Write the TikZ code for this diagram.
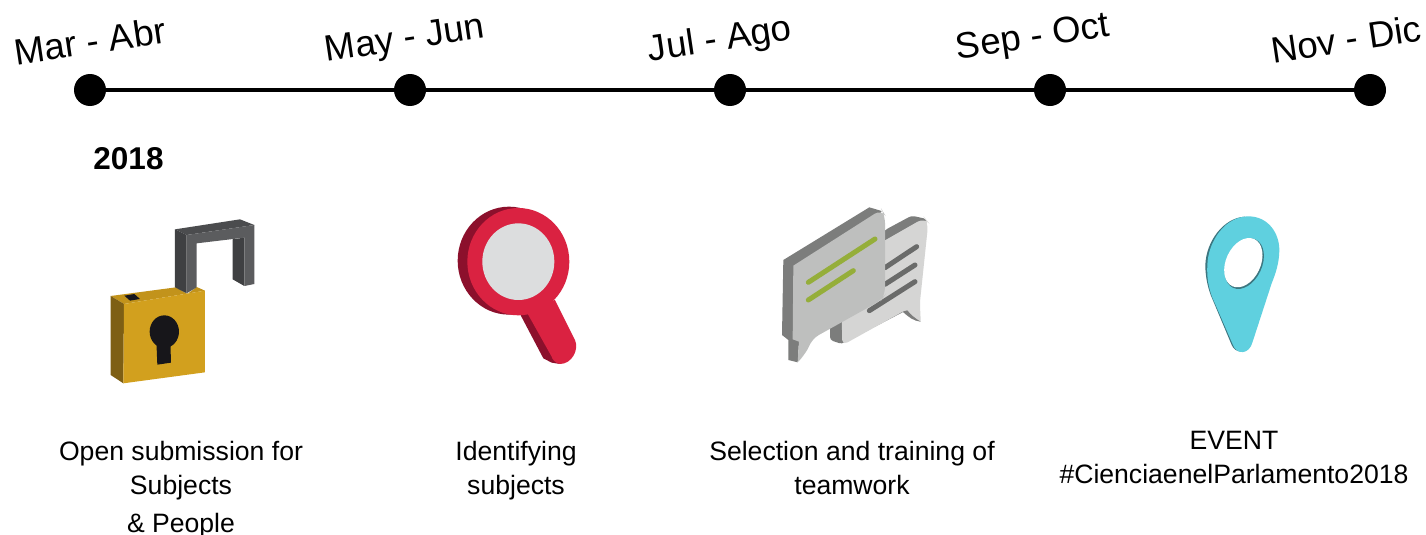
\documentclass[tikz,border=0pt]{standalone}
\usepackage{fontspec}
\setmainfont{Liberation Sans}
\definecolor{lockfront}{HTML}{D2A01E}
\definecolor{lockside}{HTML}{7E5F14}
\definecolor{locktop}{HTML}{C2931B}
\definecolor{keyblack}{HTML}{17161A}
\definecolor{shackfront}{HTML}{5B5C5E}
\definecolor{shackside}{HTML}{3F4042}
\definecolor{shacktop}{HTML}{4B4C4E}
\definecolor{magred}{HTML}{DA2241}
\definecolor{magdark}{HTML}{8C102C}
\definecolor{glass}{HTML}{DCDDDE}
\definecolor{bubfront}{HTML}{BEBFBE}
\definecolor{bubback}{HTML}{D5D5D4}
\definecolor{bubdark}{HTML}{7C7D7C}
\definecolor{barline}{HTML}{6A6B6A}
\definecolor{greenline}{HTML}{95AE3A}
\definecolor{pincyan}{HTML}{5FD0DF}
\definecolor{pindark}{HTML}{3C7680}
\tikzset{
  dot/.style={circle,fill=black,minimum size=32pt,inner sep=0pt},
  datelabel/.style={font=\fontsize{36.6}{40}\selectfont,rotate=8.5,inner sep=0pt},
  caption/.style={font=\fontsize{26.6}{34}\selectfont,align=center,inner sep=0pt},
  axis/.style={line width=4pt,black},
  icon/.style={x=0.3333pt,y=-0.3333pt},
  barthin/.style={line width=5pt,line cap=round,barline},
  bargreen/.style={line width=5pt,line cap=round,greenline}
}
\begin{document}
\begin{tikzpicture}[x=1pt,y=-1pt]
\useasboundingbox (0,0) rectangle (1426,535);
\fill[white] (0,0) rectangle (1426,535);
% timeline
\node[dot] (d1) at (90,90) {};
\node[dot] (d2) at (410,90) {};
\node[dot] (d3) at (730,90) {};
\node[dot] (d4) at (1050,90) {};
\node[dot] (d5) at (1370,90) {};
\draw[axis] (d1) -- (d2);
\draw[axis] (d2) -- (d3);
\draw[axis] (d3) -- (d4);
\draw[axis] (d4) -- (d5);
\node[datelabel] (l1) at (90,41) {Mar - Abr};
\node[datelabel] (l2) at (405,41) {May - Jun};
\node[datelabel] (l3) at (720,41) {Jul - Ago};
\node[datelabel] (l4) at (1033,39) {Sep - Oct};
\node[datelabel] (l5) at (1346,39) {Nov - Dic};
\node[font=\fontsize{31.5}{36}\selectfont\bfseries,inner sep=0pt] (year) at (128.5,158.5) {2018};
% captions
\node[caption] (c1) at (181,489.5) {Open submission for\\Subjects\\[4pt]\& People};
\node[caption] (c2) at (516,471) {Identifying\\subjects};
\node[caption] (c3) at (852,468) {Selection and training of\\teamwork};
\node[caption] (c4) at (1234,457) {EVENT\\\#CienciaenelParlamento2018};
% lock
\begin{scope}[shift={(90,200)},icon]
\fill[shacktop] (255,88) -- (450,58) -- (493,75) -- (290,105) -- cycle;
\fill[shackside] (428,118) -- (463,113) -- (463,258) -- (428,238) -- cycle;
\fill[locktop] (62,288) -- (258,262) -- (292,282) -- (320,261) -- (345,272) -- (102,312) -- cycle;
\fill[shackside] (255,88) -- (290,105) -- (290,280) -- (255,262) -- cycle;
\fill[shackfront] (290,105) -- (493,75) -- (493,252) -- (463,258) -- (463,113) -- (320,130) -- (320,262) -- (290,280) -- cycle;
\fill[lockside] (62,288) -- (102,312) -- (100,550) -- (62,525) -- cycle;
\fill[lockfront] (102,312) -- (345,272) -- (345,517) -- (100,550) -- cycle;
\fill[keyblack] (103,287) -- (133,282) -- (150,297) -- (120,302) -- cycle;
\fill[keyblack] (223,395) ellipse [x radius=44, y radius=49];
\fill[keyblack] (199,420) -- (202,494) -- (243,488) -- (241,420) -- cycle;
\end{scope}
% magnifier
\begin{scope}[shift={(440,195)},icon]
\fill[magdark] (207,197) ellipse [x radius=154, y radius=162];
\fill[magdark] (240,357) -- (275,350) -- (360,507) -- (335,503) -- (310,490) -- cycle;
\fill[magred] (235,200) ellipse [x radius=153, y radius=161];
\fill[magred] (265,360) -- (250,340) -- (345,315) -- (405,435) .. controls (418,465) and (395,507) .. (360,507) .. controls (345,505) and (335,490) .. (335,485) -- cycle;
\fill[glass] (235,200) ellipse [x radius=108, y radius=115];
\end{scope}
% speech bubbles
\begin{scope}[shift={(770,195)},icon]
\fill[bubdark,rounded corners=3pt] (180,375) -- (345,105) -- (425,62) -- (470,72) -- (440,330) -- (215,447) -- (180,435) -- cycle;
\fill[bubback] (215,360) -- (345,280) -- (345,136) [rounded corners=8pt] -- (464,68) -- (475,82) [sharp corners] -- (450,320) .. controls (450,345) and (452,365) .. (452,380) .. controls (430,378) and (415,365) .. (398,350) -- (240,438) [rounded corners=5pt] -- (217,450) -- cycle;
\fill[bubdark] (398,350) .. controls (415,365) and (430,378) .. (452,380) .. controls (438,372) and (420,358) .. (412,346) -- cycle;
\draw[barthin] (345,218) -- (440,155);
\draw[barthin] (345,268) -- (435,210);
\draw[barthin] (298,347) -- (435,260);
\fill[bubdark] (40,195) -- (298,37) -- (335,48) -- (87,440) -- (83,502) -- (55,495) -- (55,435) -- (36,420) -- cycle;
\fill[bubfront,rounded corners=8pt] (70,212) -- (335,43) -- (345,60) -- (345,300) -- (335,315) -- (125,432) [sharp corners] .. controls (115,460) and (100,485) .. (83,502) -- (87,440) -- (68,433) -- cycle;
\draw[bargreen] (115,262) -- (315,132);
\draw[bargreen] (115,315) -- (250,227);
\end{scope}
% pin
\begin{scope}[shift={(1190,205)},icon]
\fill[pindark] (165,35) .. controls (100,38) and (48,110) .. (46,180) .. controls (46,220) and (55,250) .. (62,270) -- (125,420) .. controls (135,445) and (170,448) .. (180,420) -- cycle;
\fill[pincyan] (175,34) .. controls (235,34) and (268,85) .. (268,135) .. controls (268,175) and (255,210) .. (245,235) -- (188,410) .. controls (178,450) and (140,450) .. (129,420) -- (66,275) .. controls (55,245) and (50,215) .. (52,180) .. controls (54,110) and (105,34) .. (175,34) -- cycle;
\fill[pindark] (163,176) ellipse [x radius=53, y radius=80, rotate=-25];
\fill[white] (160,173) ellipse [x radius=52, y radius=78, rotate=-25];
\end{scope}
\end{tikzpicture}
\end{document}
